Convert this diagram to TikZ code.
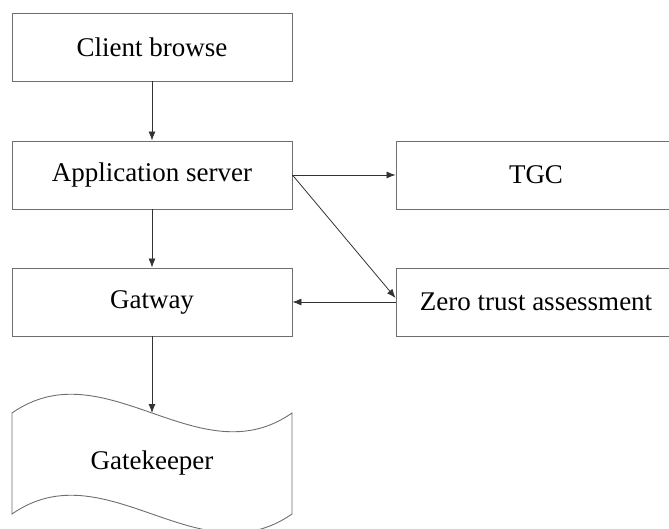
\documentclass[tikz,border=0pt]{standalone}
\usepackage{fontspec}
\setmainfont{Liberation Serif}
\usetikzlibrary{arrows.meta}
\usetikzlibrary{positioning}
\definecolor{edge-gray}{RGB}{110, 110, 110}

\tikzset{
  flowbox/.style={draw=edge-gray, line width=0.9pt, minimum width=280pt, minimum height=68pt, inner sep=0pt, font=\fontsize{27}{32}\selectfont},
  flowarrow/.style={draw=black!80, line width=0.8pt, -{Latex[length=9pt,width=7pt]}}
}

\begin{document}
\begin{tikzpicture}[x=1pt,y=-1pt]
\useasboundingbox (0,0) rectangle (669,528);
\node[flowbox] (client) at (152,47) {Client browse};
\node[flowbox] (appserver) at (152,175) {Application server};
\node[flowbox] (gatway) at (152,302) {Gatway};
\node[flowbox] (tgc) at (536,175) {TGC};
\node[flowbox] (zerotrust) at (536,302) {Zero trust assessment};

% gatekeeper, wavy top and bottom
\draw[draw=edge-gray, line width=0.9pt] (12,413) .. controls (105,348) and (199,478) .. (292,413)
  -- (292,514) .. controls (199,579) and (105,449) .. (12,514) -- cycle;
\coordinate (keeptop) at (152,413);
\node[font=\fontsize{27}{32}\selectfont] (keeper) at (152,463) {Gatekeeper};

\draw[flowarrow] (client) -- (appserver);
\draw[flowarrow] (appserver) -- (gatway);
\draw[flowarrow] (gatway) -- (keeptop);
\draw[flowarrow] (appserver) -- (tgc);
\draw[flowarrow] (appserver.east) -- ([yshift=4pt]zerotrust.west);
\draw[flowarrow] (zerotrust) -- (gatway);
\end{tikzpicture}
\end{document}
